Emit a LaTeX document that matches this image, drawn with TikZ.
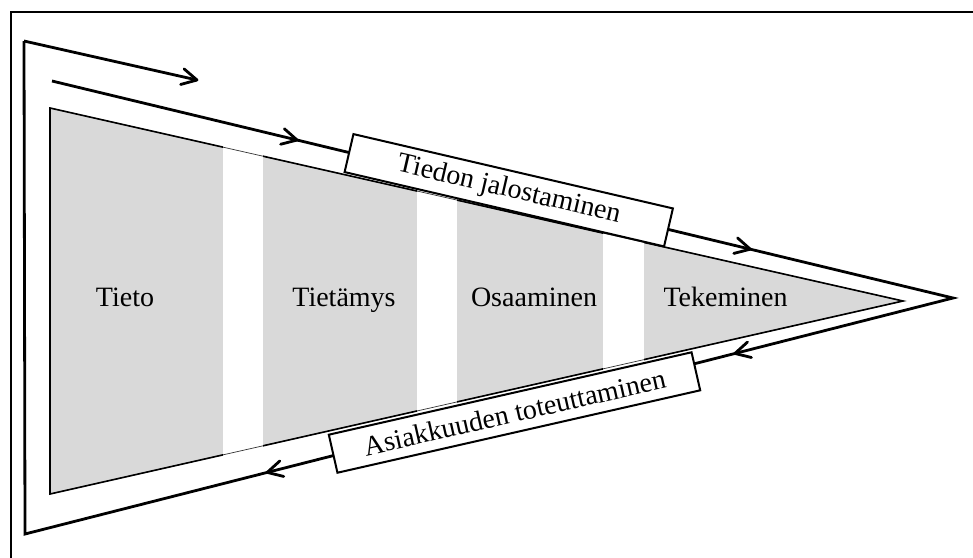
\documentclass[tikz,border=0pt]{standalone}
\usepackage{fontspec}
\setmainfont{Liberation Serif}
\usetikzlibrary{arrows.meta,calc}
\definecolor{segfill}{HTML}{D9D9D9}
\begin{document}
\begin{tikzpicture}[x=1pt,y=-1pt,
  thickline/.style={line width=2.8pt, line join=miter},
  chevron/.style={line width=2.8pt, line cap=round, line join=round},
  lbl/.style={font=\fontsize{28}{30}\selectfont, anchor=base, inner sep=0pt},
  labelbox/.style={draw, fill=white, line width=2pt, inner sep=0pt,
     minimum height=39pt, font=\fontsize{28}{30}\selectfont}]
\useasboundingbox (0,0) rectangle (973,557);
% frame
\draw[line width=1.3pt] (11,12) rectangle (990,575);
% coordinates
\coordinate (A) at (24,41);
\coordinate (B) at (25,534);
\coordinate (T) at (953,298);
\coordinate (S) at (52,81);
\coordinate (a1) at (197,80);
\coordinate (G1) at (50,108);
\coordinate (G2) at (50,494);
\coordinate (GT) at (903,301);
\coordinate (p1) at ($(S)!0.272!(T)$);
\coordinate (p2) at ($(S)!0.775!(T)$);
\coordinate (q1) at ($(T)!0.235!(B)$);
\coordinate (q2) at ($(T)!0.739!(B)$);
% gray triangle
\fill[segfill] (G1) -- (GT) -- (G2) -- cycle;
\fill[white] (223,100) rectangle (263,500);
\fill[white] (417,100) rectangle (457,500);
\fill[white] (603,100) rectangle (644,500);
\draw[line width=0.7pt, black!80] (G1) -- (GT) -- (G2) -- cycle;
\begin{scope}
  \clip (40,100) rectangle (223,500) (263,100) rectangle (417,500)
        (457,100) rectangle (603,500) (644,100) rectangle (915,500);
  \draw[line width=1.6pt, line join=miter] (G1) -- (GT) -- (G2) -- cycle;
\end{scope}
% outer lines
\draw[thickline] (A) -- (B) -- (T) -- (S);
\draw[thickline] (A) -- (a1);
% chevron arrowheads
\draw[chevron] ($(a1)!17pt!-28:(A)$) -- (a1) -- ($(a1)!17pt!28:(A)$);
\draw[chevron] ($(p1)!17pt!-28:(S)$) -- (p1) -- ($(p1)!17pt!28:(S)$);
\draw[chevron] ($(p2)!17pt!-28:(S)$) -- (p2) -- ($(p2)!17pt!28:(S)$);
\draw[chevron] ($(q1)!17pt!-28:(T)$) -- (q1) -- ($(q1)!17pt!28:(T)$);
\draw[chevron] ($(q2)!17pt!-28:(T)$) -- (q2) -- ($(q2)!17pt!28:(T)$);
% labels
\node[lbl] (tieto) at (125,306) {Tieto};
\node[lbl] (tietamys) at (344,306) {Tietämys};
\node[lbl] (osaaminen) at (534,306) {Osaaminen};
\node[lbl] (tekeminen) at (725.5,306) {Tekeminen};
% boxes
\node[labelbox, minimum width=328pt, rotate=-13.1] (jalo) at (508.75,190.25) {Tiedon jalostaminen};
\node[labelbox, minimum width=372pt, rotate=12.8] (asiak) at (514.5,412.5) {Asiakkuuden toteuttaminen};
\end{tikzpicture}
\end{document}
